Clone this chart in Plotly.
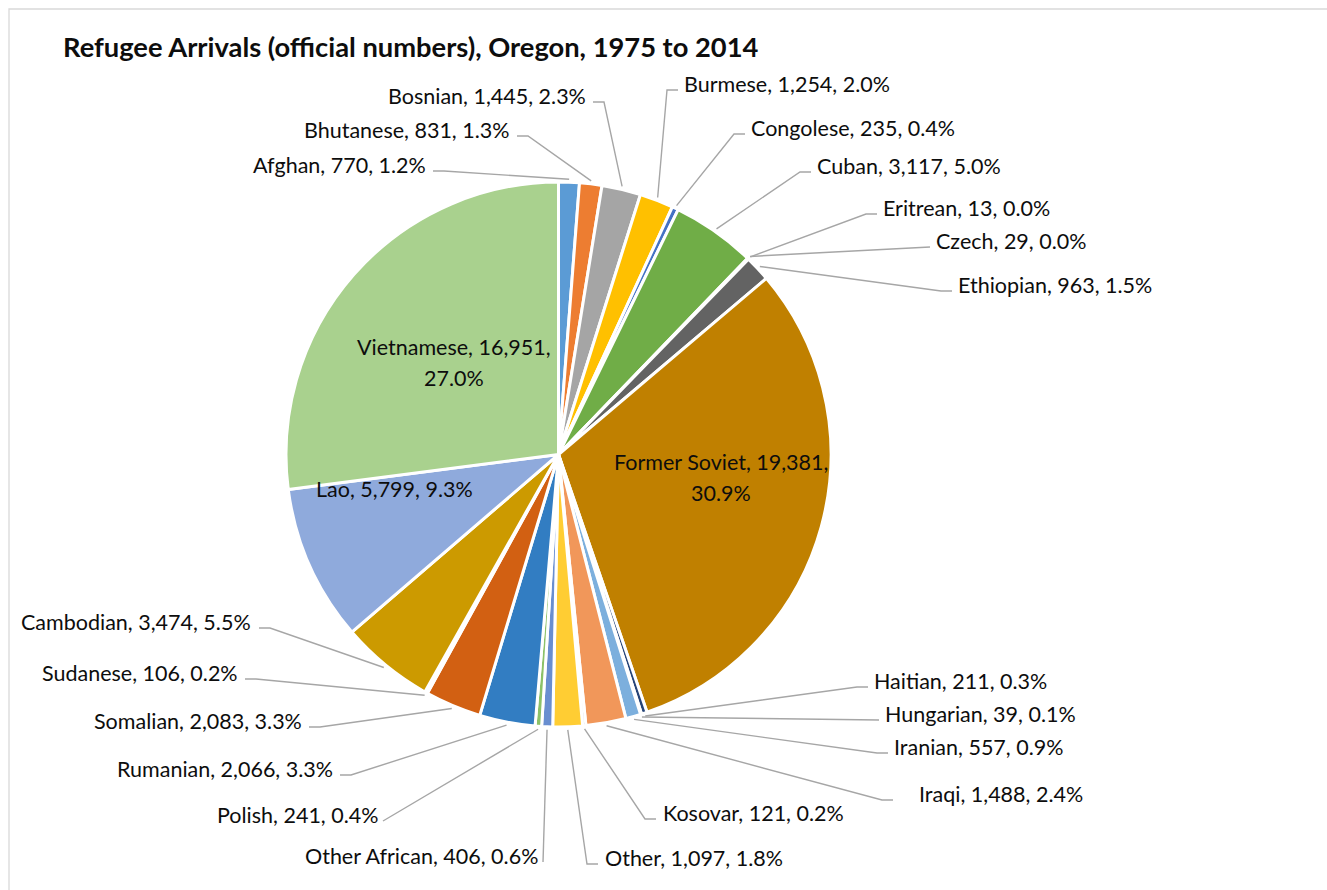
import math
import plotly.graph_objects as go

# ---------------- data ----------------
names = ["Afghan", "Bhutanese", "Bosnian", "Burmese", "Congolese", "Cuban", "Czech",
         "Eritrean", "Ethiopian", "Former Soviet", "Haitian", "Hungarian", "Iranian",
         "Iraqi", "Kosovar", "Other", "Other African", "Polish", "Rumanian", "Somalian",
         "Sudanese", "Cambodian", "Lao", "Vietnamese"]
values = [770, 831, 1445, 1254, 235, 3117, 29, 13, 963, 19381, 211, 39, 557,
          1488, 121, 1097, 406, 241, 2066, 2083, 106, 3474, 5799, 16951]
colors = ["#5B9BD5", "#ED7D31", "#A5A5A5", "#FFC000", "#4472C4", "#70AD47", "#255E91",
          "#9E480E", "#636363", "#C08000", "#264478", "#43682B", "#7CAFDD",
          "#F1975A", "#B7B7B7", "#FFCD33", "#698ED0", "#8CC168", "#327DC2", "#D26012",
          "#848484", "#CC9A00", "#8FAADC", "#A9D18E"]
title = "Refugee Arrivals (official numbers), Oregon, 1975 to 2014"

# ---------------- layout (pixels) ----------------
W, H = 1327, 890
CX, CY, R = 558.5, 454.5, 272.5
FONT = "Lato, 'Open Sans', sans-serif"
LBL_SIZE = 21.5
TITLE_SIZE = 27.3
TXT = "#0D0D0D"
LINE = "#A6A6A6"

# label placement: side, text edge x, text centre y, gap to leader, elbow length
outside = {
    "Afghan": ("l", 428, 165, 5, 11),
    "Bhutanese": ("l", 512, 130, 5, 11),
    "Bosnian": ("l", 588, 96, 5, 11),
    "Burmese": ("r", 682, 84, 4, 11),
    "Congolese": ("r", 749, 128, 4, 11),
    "Cuban": ("r", 815, 166, 4, 11),
    "Eritrean": ("r", 881, 208, 4, 11),
    "Czech": ("r", 934, 241, 4, 0),
    "Ethiopian": ("r", 956, 285, 4, 11),
    "Haitian": ("r", 872, 681, 4, 11),
    "Hungarian": ("r", 883, 714, 4, 0),
    "Iranian": ("r", 892, 747, 4, 11),
    "Iraqi": ("r", 917, 794, 24, 11),
    "Kosovar": ("r", 661, 813, 5, 11),
    "Other": ("r", 603, 858, 5, 11),
    "Other African": ("l", 540, 856, 3, 0),
    "Polish": ("l", 381, 815, 2, 0),
    "Rumanian": ("l", 335, 769, 5, 11),
    "Somalian": ("l", 304, 721, 5, 11),
    "Sudanese": ("l", 240, 673, 5, 11),
    "Cambodian": ("l", 253, 622, 6, 11),
}
inside = {
    "Vietnamese": (454, 347, 378),
    "Former Soviet": (721, 462, 493),
    "Lao": (394, 489, None),
}


def px(x):
    return x / W


def py(y):
    return 1 - y / H


total = sum(values)

fig = go.Figure(go.Pie(
    labels=names, values=values, sort=False, direction="clockwise", rotation=0,
    marker=dict(colors=colors, line=dict(color="white", width=3)),
    textinfo="none", hoverinfo="label+value+percent", showlegend=False,
    domain=dict(x=[px(CX - R), px(CX + R)], y=[py(CY + R), py(CY - R)]),
))

annotations = []
shapes = []

# title
annotations.append(dict(x=px(61), y=py(47), xref="paper", yref="paper", text="<b>" + title + "</b>",
                        showarrow=False, xanchor="left", yanchor="middle",
                        font=dict(family=FONT, size=TITLE_SIZE, color=TXT)))

cum = 0
for name, v in zip(names, values):
    mid = (cum + v / 2) / total * 2 * math.pi
    cum += v
    pct = f"{v / total * 100:.1f}%"
    if name in outside:
        side, tx, ty, gap, elbow = outside[name]
        sx = CX + (R + 3) * math.sin(mid)
        sy = CY - (R + 3) * math.cos(mid)
        ly = ty + 6
        if side == "r":
            ex = tx - gap
            bx = ex - elbow
            xa = "left"
        else:
            ex = tx + gap
            bx = ex + elbow
            xa = "right"
        path = f"M {px(sx)},{py(sy)} L {px(bx)},{py(ly)} L {px(ex)},{py(ly)}"
        shapes.append(dict(type="path", xref="paper", yref="paper", path=path,
                           line=dict(color=LINE, width=1.4)))
        annotations.append(dict(x=px(tx), y=py(ty), xref="paper", yref="paper",
                                text=f"{name}, {v:,}, {pct}", showarrow=False,
                                xanchor=xa, yanchor="middle",
                                font=dict(family=FONT, size=LBL_SIZE, color=TXT)))
    elif name in inside:
        cx_, y1, y2 = inside[name]
        if y2 is None:
            lines = [(f"{name}, {v:,}, {pct}", y1)]
        else:
            lines = [(f"{name}, {v:,},", y1), (pct, y2)]
        for t, yy in lines:
            annotations.append(dict(x=px(cx_), y=py(yy), xref="paper", yref="paper",
                                    text=t, showarrow=False, xanchor="center", yanchor="middle",
                                    font=dict(family=FONT, size=LBL_SIZE, color=TXT)))

# chart-area border (extends past the right and bottom edges)
shapes.append(dict(type="rect", xref="paper", yref="paper", x0=px(9), x1=px(1340),
                   y0=py(900), y1=py(9), line=dict(color="#D9D9D9", width=1.3),
                   fillcolor="rgba(0,0,0,0)", layer="below"))

fig.update_layout(width=W, height=H, margin=dict(l=0, r=0, t=0, b=0),
                  paper_bgcolor="white", plot_bgcolor="white",
                  annotations=annotations, shapes=shapes)

fig.write_html("out.html", config={"displayModeBar": False},
               post_script="document.body.style.margin='0';document.body.style.overflow='hidden';")
